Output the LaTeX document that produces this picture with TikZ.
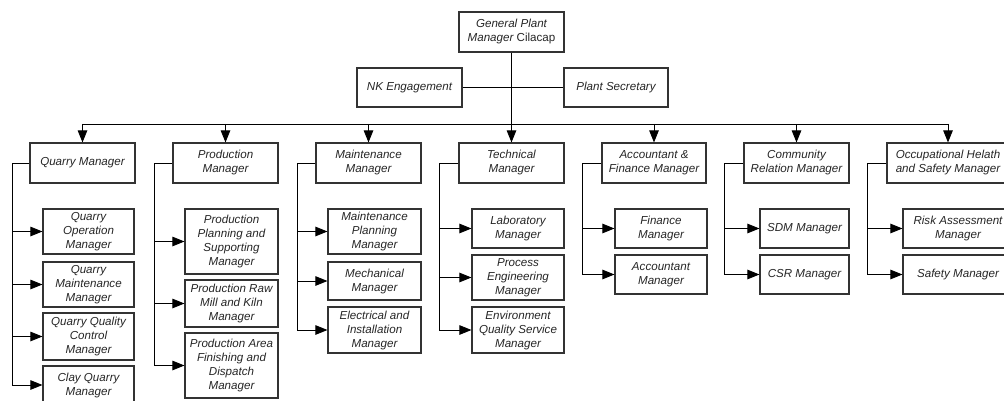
\documentclass[tikz,border=0pt]{standalone}
\usepackage{fontspec}
\setmainfont{Liberation Sans}
\usetikzlibrary{arrows.meta}
\begin{document}
\begin{tikzpicture}[x=1pt,y=-1pt,
  box/.style={draw=black!80, line width=1.1pt, fill=white, inner sep=1pt, align=center,
    font=\fontsize{11.6}{14}\selectfont\itshape, text=black!85},
  link/.style={draw=black, line width=0.9pt},
  arr/.style={link, -{Triangle[length=12pt,width=9.5pt]}}]
\clip (0,0) rectangle (1004,401);
\fill[white] (0,0) rectangle (1004,401);

% top of the chart
\node[box, minimum width=105, minimum height=40] (gpm) at (511.5,32) {General Plant\\Manager \upshape Cilacap};
\node[box, minimum width=105, minimum height=39] (nk) at (409.5,87.5) {NK Engagement};
\node[box, minimum width=104, minimum height=39] (ps) at (616,87.5) {Plant Secretary};

% department managers
\node[box, minimum width=105, minimum height=40] (qm)  at (82.5,163)  {Quarry Manager};
\node[box, minimum width=105, minimum height=40] (pm)  at (225.5,163) {Production\\Manager};
\node[box, minimum width=105, minimum height=40] (mm)  at (368.5,163) {Maintenance\\Manager};
\node[box, minimum width=105, minimum height=40] (tm)  at (511.5,163) {Technical\\Manager};
\node[box, minimum width=104, minimum height=40] (afm) at (654,163)   {Accountant \&\\Finance Manager};
\node[box, minimum width=105, minimum height=40] (crm) at (796.5,163) {Community\\Relation Manager};
\node[box, minimum width=122, minimum height=40] (ohs) at (948,163)   {Occupational Helath\\and Safety Manager};

% quarry units
\node[box, minimum width=91, minimum height=45] (qc1) at (88.5,231.5) {Quarry\\Operation\\Manager};
\node[box, minimum width=91, minimum height=45] (qc2) at (88.5,284.5) {Quarry\\Maintenance\\Manager};
\node[box, minimum width=91, minimum height=47] (qc3) at (88.5,336.5) {Quarry Quality\\Control\\Manager};
\node[box, minimum width=91, minimum height=38] (qc4) at (88.5,385)   {Clay Quarry\\Manager};

% production units
\node[box, minimum width=93, minimum height=65] (pc1) at (231.5,241.5) {Production\\Planning and\\Supporting\\Manager};
\node[box, minimum width=93, minimum height=47] (pc2) at (231.5,303.5) {Production Raw\\Mill and Kiln\\Manager};
\node[box, minimum width=93, minimum height=65] (pc3) at (231.5,365.5) {Production Area\\Finishing and\\Dispatch\\Manager};

% maintenance units
\node[box, minimum width=93, minimum height=45] (mc1) at (374.5,231.5) {Maintenance\\Planning\\Manager};
\node[box, minimum width=93, minimum height=38] (mc2) at (374.5,281)   {Mechanical\\Manager};
\node[box, minimum width=93, minimum height=46] (mc3) at (374.5,330)   {Electrical and\\Installation\\Manager};

% technical units
\node[box, minimum width=92, minimum height=39] (tc1) at (518,228.5) {Laboratory\\Manager};
\node[box, minimum width=92, minimum height=45] (tc2) at (518,277.5) {Process\\Engineering\\Manager};
\node[box, minimum width=92, minimum height=46] (tc3) at (518,330)   {Environment\\Quality Service\\Manager};

% finance units
\node[box, minimum width=92, minimum height=39] (ac1) at (661,228.5) {Finance\\Manager};
\node[box, minimum width=92, minimum height=39] (ac2) at (661,274.5) {Accountant\\Manager};

% community units
\node[box, minimum width=89, minimum height=39] (cc1) at (804.5,228.5) {SDM Manager};
\node[box, minimum width=89, minimum height=39] (cc2) at (804.5,274.5) {CSR Manager};

% safety units
\node[box, minimum width=110, minimum height=39] (oc1) at (958,228.5) {Risk Assessment\\Manager};
\node[box, minimum width=110, minimum height=39] (oc2) at (958,274.5) {Safety Manager};

% staff line and main trunk
\draw[link] (nk.east) -- (ps.west);
\draw[arr] (gpm.south) -- (tm.north);

% distribution bus to the departments
\coordinate (bus) at (0,124);
\draw[link] (qm.north |- bus) -- (ohs.north |- bus);
\foreach \d in {qm,pm,mm,afm,crm,ohs}
  \draw[arr] (\d.north |- bus) -- (\d.north);

% department trunks
\coordinate (qt) at (12,163);
\coordinate (pt) at (154,163);
\coordinate (mt) at (297,163);
\coordinate (tt) at (439,163);
\coordinate (at) at (582,163);
\coordinate (ct) at (724,163);
\coordinate (ot) at (867,163);

\draw[arr] (qm.west) -- (qt) |- (qc4.west);
\foreach \c in {qc1,qc2,qc3} \draw[arr] (qt |- \c.west) -- (\c.west);

\draw[arr] (pm.west) -- (pt) |- (pc3.west);
\foreach \c in {pc1,pc2} \draw[arr] (pt |- \c.west) -- (\c.west);

\draw[arr] (mm.west) -- (mt) |- (mc3.west);
\foreach \c in {mc1,mc2} \draw[arr] (mt |- \c.west) -- (\c.west);

\draw[arr] (tm.west) -- (tt) |- (tc3.west);
\foreach \c in {tc1,tc2} \draw[arr] (tt |- \c.west) -- (\c.west);

\draw[arr] (afm.west) -- (at) |- (ac2.west);
\draw[arr] (at |- ac1.west) -- (ac1.west);

\draw[arr] (crm.west) -- (ct) |- (cc2.west);
\draw[arr] (ct |- cc1.west) -- (cc1.west);

\draw[arr] (ohs.west) -- (ot) |- (oc2.west);
\draw[arr] (ot |- oc1.west) -- (oc1.west);
\end{tikzpicture}
\end{document}
